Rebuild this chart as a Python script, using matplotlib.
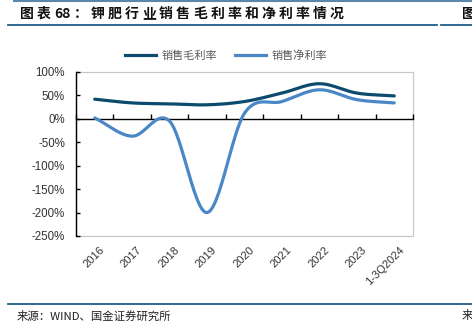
import re
import numpy as np
import matplotlib
matplotlib.use("Agg")
import matplotlib.pyplot as plt
from matplotlib.lines import Line2D
from matplotlib.patches import Rectangle
import matplotlib.transforms as mtransforms

plt.rcParams['font.family'] = ['Liberation Sans', 'Noto Sans CJK SC', 'DejaVu Sans']

categories = ["2016", "2017", "2018", "2019", "2020", "2021", "2022", "2023", "1-3Q2024"]
gross_margin = [42, 34, 32, 30, 37, 55, 75, 55, 49]
net_margin = [2, -37, -5, -200, 12, 37, 62, 41, 34]
series_names = ["销售毛利率", "销售净利率"]
yticks = [100, 50, 0, -50, -100, -150, -200, -250]
title = "图表68：钾肥行业销售毛利率和净利率情况"
source = "来源：WIND、国金证券研究所"

GROSS_C = "#0d4b6e"
NET_C = "#4a87c6"
CJK = ['Noto Sans CJK SC', 'DejaVu Sans']


def smooth(xs, ys, n=30):
    xs = np.asarray(xs, float); ys = np.asarray(ys, float)
    P = np.column_stack([xs, ys])
    P = np.vstack([P[0] - (P[1] - P[0]), P, P[-1] + (P[-1] - P[-2])])
    out = []
    for i in range(1, len(P) - 2):
        p0, p1, p2, p3 = P[i - 1], P[i], P[i + 1], P[i + 2]
        t = np.linspace(0, 1, n)[:, None]
        seg = 0.5 * ((2 * p1) + (-p0 + p2) * t + (2 * p0 - 5 * p1 + 4 * p2 - p3) * t ** 2
                     + (-p0 + 3 * p1 - 3 * p2 + p3) * t ** 3)
        out.append(seg if i == 1 else seg[1:])
    out = np.vstack(out)
    return out[:, 0], out[:, 1]


W, H = 472, 331
fig = plt.figure(figsize=(W / 100, H / 100), dpi=100)
ax = fig.add_axes([76 / W, 1 - 236 / H, (413 - 76) / W, (236 - 72) / H])

x = np.arange(len(categories))
gx, gy = smooth(x, gross_margin)
nx, ny = smooth(x, net_margin)
ax.plot(gx, gy, color=GROSS_C, lw=2.3, solid_capstyle='round', zorder=4)
ax.plot(nx, ny, color=NET_C, lw=2.3, solid_capstyle='round', zorder=3)

ax.set_xlim(-0.5, len(categories) - 0.5)
ax.set_ylim(-250, 100)

# frame
for s in ['top', 'right']:
    ax.spines[s].set_visible(False)
ax.add_patch(Rectangle((0, 0), 1, 1, transform=ax.transAxes, fill=False,
                       edgecolor='#c8c8c8', lw=0.9, zorder=1, clip_on=False))
ax.spines['left'].set_color('black')
ax.spines['left'].set_linewidth(1.0)
ax.spines['left'].set_zorder(5)
ax.spines['bottom'].set_position(('data', 0))
ax.spines['bottom'].set_color('black')
ax.spines['bottom'].set_linewidth(1.0)

ax.set_yticks(yticks)
ax.set_yticklabels([f"{v}%" for v in yticks], fontsize=8.3, color='#333333')
ax.tick_params(axis='y', direction='in', length=3, width=1, pad=8)

ax.set_xticks(np.arange(len(categories) + 1) - 0.5)
ax.set_xticklabels([])
ax.tick_params(axis='x', direction='in', length=3.5, width=1)

trans = mtransforms.blended_transform_factory(ax.transData, ax.transAxes)
for i, c in enumerate(categories):
    ax.text(i + 0.12, -0.055, c, transform=trans, rotation=45, ha='right', va='top',
            rotation_mode='anchor', fontsize=8, color='#333333')

handles = [Line2D([], [], color=GROSS_C, lw=2.3), Line2D([], [], color=NET_C, lw=2.3)]
fig.legend(handles, series_names, loc='center', bbox_to_anchor=(226 / W, 1 - 56 / H),
           ncol=2, frameon=False, handlelength=2.8, columnspacing=1.6, handletextpad=0.5,
           prop={'family': CJK, 'size': 8}, labelcolor='#595959')

# header/footer decorations
fig.add_artist(Line2D([14 / W, 1], [1 - 1 / H] * 2, color='#5b87ad', lw=1.5))
fig.add_artist(Line2D([8 / W, 437 / W], [1 - 25 / H] * 2, color='#1f5d88', lw=1.3))
fig.add_artist(Line2D([441 / W, 1], [1 - 25 / H] * 2, color='#1f5d88', lw=1.3))
fig.add_artist(Line2D([8 / W, 1], [1 - 304 / H] * 2, color='#1f5d88', lw=1.3))

# title with letter spacing, digits kept together
renderer = fig.canvas.get_renderer()
xpos = 20.0
for tok in re.findall(r"\d+|.", title):
    t = fig.text(xpos / W, 1 - 14 / H, tok, fontsize=10, fontweight='bold', family=CJK,
                 va='center', ha='left', color='#111111')
    w = t.get_window_extent(renderer).width
    xpos += w + 3.2

fig.text(462 / W, 1 - 14 / H, "图", fontsize=10, fontweight='bold', family=CJK,
         va='center', ha='left', color='#111111')
fig.text(17 / W, 1 - 316 / H, source, fontsize=8.2, family=CJK, va='center', ha='left',
         color='#222222')
fig.text(462 / W, 1 - 316 / H, "来", fontsize=8.2, family=CJK, va='center', ha='left',
         color='#222222')

fig.savefig("out.png", dpi=100)
